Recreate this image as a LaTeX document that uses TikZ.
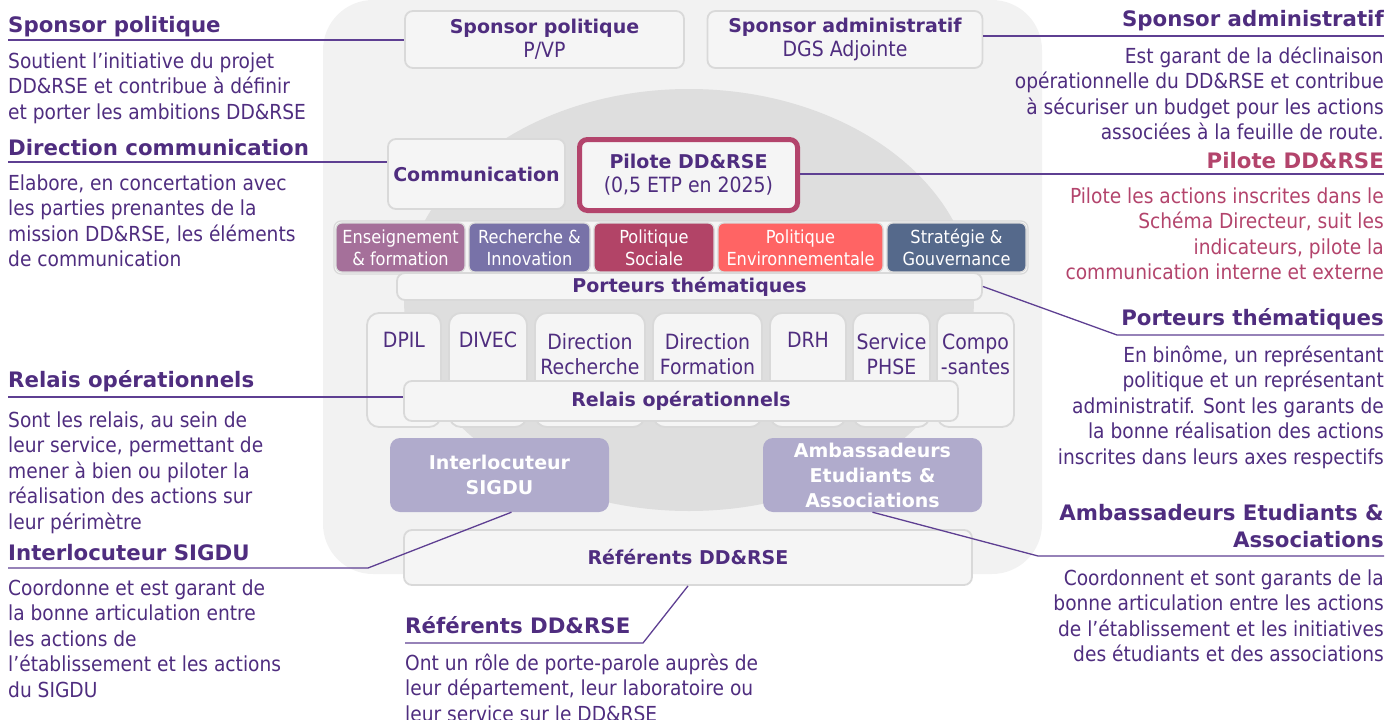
\documentclass[tikz,border=0pt]{standalone}
\usepackage{fontspec}
\setmainfont{DejaVu Sans Condensed}[BoldFont={DejaVu Sans Bold}]
\usetikzlibrary{calc}
\definecolor{purp}{HTML}{4F2D7F}
\definecolor{pink}{HTML}{B3446C}
\definecolor{lnc}{HTML}{5E3F92}
\definecolor{bgA}{HTML}{F2F2F2}
\definecolor{bgB}{HTML}{DEDEDE}
\definecolor{boxf}{HTML}{F5F5F5}
\definecolor{boxd}{HTML}{D9D9D9}
\definecolor{cEns}{HTML}{A5709A}
\definecolor{cRec}{HTML}{7872A8}
\definecolor{cSoc}{HTML}{B24467}
\definecolor{cEnv}{HTML}{FF6464}
\definecolor{cStr}{HTML}{55698B}
\definecolor{lav}{HTML}{B0ABCC}
\tikzset{
 gbox/.style={draw=boxd, line width=1.8pt, fill=boxf, rounded corners=8pt, inner sep=0pt, text=purp, align=center, font=\fontsize{21}{24}\selectfont},
 cbox/.style={draw=boxd, line width=1.2pt, rounded corners=6pt, inner sep=0pt, text=white, align=center, font=\fontsize{18}{22}\selectfont},
 lbox/.style={fill=lav, rounded corners=10pt, inner sep=0pt, text=white, align=center, font=\bfseries\fontsize{19}{25}\selectfont},
 coltxt/.style={inner sep=0pt, text=purp, align=center, font=\fontsize{21}{25}\selectfont},
 ttl/.style={inner sep=0pt, text=purp, font=\bfseries\fontsize{21.3}{27.5}\selectfont},
 body/.style={inner sep=0pt, text=purp, font=\fontsize{20.7}{25.5}\selectfont},
 conn/.style={draw=lnc, line width=1.3pt},
 bt/.style={font=\bfseries\fontsize{19}{24}\selectfont},
}
\begin{document}
\begin{tikzpicture}[x=1pt,y=-1pt]
\useasboundingbox (0,0) rectangle (1393,720);
% backgrounds
\fill[bgA, rounded corners=50pt] (323,0) rectangle (1042,574);
\fill[bgB] (689,300) ellipse [x radius=285pt, y radius=211pt];
% top boxes
\node[gbox, minimum width=279pt, minimum height=57pt] (sp) at (544.5,39.5) {{\bfseries\fontsize{19}{24}\selectfont Sponsor politique}\\P/VP};
\node[gbox, minimum width=275pt, minimum height=57pt] (sa) at (845,39.5) {{\bfseries\fontsize{19}{24}\selectfont Sponsor administratif}\\DGS Adjointe};
\node[gbox, bt, minimum width=177pt, minimum height=70pt] (comm) at (476.5,174) {Communication};
\node[gbox, draw=pink, line width=5pt, minimum width=218pt, minimum height=71pt] (pil) at (688.5,175) {{\bfseries\fontsize{19}{24}\selectfont Pilote DD\&RSE}\\(0,5 ETP en 2025)};
% thematic row
\node[draw=boxd, line width=1.2pt, fill=boxf, rounded corners=7pt, minimum width=694pt, minimum height=53pt, inner sep=0pt] (row) at (681,247.5) {};
\node[cbox, fill=cEns, minimum width=129pt, minimum height=49pt] (ens) at (400.5,247.5) {Enseignement\\\& formation};
\node[cbox, fill=cRec, minimum width=121pt, minimum height=49pt] (rec) at (529.5,247.5) {Recherche \&\\Innovation};
\node[cbox, fill=cSoc, minimum width=120pt, minimum height=49pt] (soc) at (654,247.5) {Politique\\Sociale};
\node[cbox, fill=cEnv, minimum width=165pt, minimum height=49pt] (env) at (800.5,247.5) {Politique\\Environnementale};
\node[cbox, fill=cStr, minimum width=139pt, minimum height=49pt] (str) at (956.5,247.5) {Stratégie \&\\Gouvernance};
\node[gbox, bt, minimum width=585pt, minimum height=27pt] (port) at (689.5,286.5) {Porteurs thématiques};
% columns
\node[gbox, rounded corners=12pt, minimum width=74pt, minimum height=114pt] (k1) at (404,370) {};
\node[gbox, rounded corners=12pt, minimum width=78pt, minimum height=114pt] (k2) at (488,370) {};
\node[gbox, rounded corners=12pt, minimum width=110pt, minimum height=114pt] (k3) at (590,370) {};
\node[gbox, rounded corners=12pt, minimum width=109pt, minimum height=114pt] (k4) at (707.5,370) {};
\node[gbox, rounded corners=12pt, minimum width=76pt, minimum height=114pt] (k5) at (808,370) {};
\node[gbox, rounded corners=12pt, minimum width=77pt, minimum height=114pt] (k6) at (891.5,370) {};
\node[gbox, rounded corners=12pt, minimum width=77pt, minimum height=114pt] (k7) at (975.5,370) {};
\node[coltxt, anchor=base] (t1) at (404,347) {DPIL};
\node[coltxt, anchor=base] (t2) at (488,347) {DIVEC};
\node[coltxt, anchor=base] (t3) at (590,374) {Direction\\Recherche};
\node[coltxt, anchor=base] (t4) at (707.5,374) {Direction\\Formation};
\node[coltxt, anchor=base] (t5) at (808,347) {DRH};
\node[coltxt, anchor=base] (t6) at (891.5,374) {Service\\PHSE};
\node[coltxt, anchor=base] (t7) at (975.5,374) {Compo\\-santes};
\node[gbox, bt, minimum width=554pt, minimum height=40pt] (rel) at (681,401) {Relais opérationnels};
% lavender boxes
\node[lbox, minimum width=219pt, minimum height=74pt] (sig) at (499.5,475) {Interlocuteur\\SIGDU};
\node[lbox, minimum width=219pt, minimum height=74pt] (amb) at (872.5,475) {Ambassadeurs\\Etudiants \&\\Associations};
\node[gbox, bt, minimum width=568pt, minimum height=55pt] (ref) at (688,557.5) {Référents DD\&RSE};
% left texts
\node[ttl, anchor=base west] (T1) at (8,32) {Sponsor politique};
\node[body, anchor=base west, align=left] (B1) at (8,119) {Soutient l’initiative du projet\\DD\&RSE et contribue à définir\\et porter les ambitions DD\&RSE};
\node[ttl, anchor=base west] (T2) at (8,155) {Direction communication};
\node[body, anchor=base west, align=left] (B2) at (8,266.5) {Elabore, en concertation avec\\les parties prenantes de la\\mission DD\&RSE, les éléments\\de communication};
\node[ttl, anchor=base west] (T3) at (8,387) {Relais opérationnels};
\node[body, anchor=base west, align=left] (B3) at (8,529) {Sont les relais, au sein de\\leur service, permettant de\\mener à bien ou piloter la\\réalisation des actions sur\\leur périmètre};
\node[ttl, anchor=base west] (T4) at (8,560) {Interlocuteur SIGDU};
\node[body, anchor=base west, align=left] (B4) at (8,697) {Coordonne et est garant de\\la bonne articulation entre\\les actions de\\l’établissement et les actions\\du SIGDU};
% right texts
\node[ttl, anchor=base east] (T5) at (1384,27) {Sponsor administratif};
\node[body, anchor=base east, align=right] (B5) at (1384,139.5) {Est garant de la déclinaison\\opérationnelle du DD\&RSE et contribue\\à sécuriser un budget pour les actions\\associées à la feuille de route.};
\node[ttl, anchor=base east, text=pink] (T6) at (1384,168) {Pilote DD\&RSE};
\node[body, anchor=base east, align=right, text=pink] (B6) at (1384,279.5) {Pilote les actions inscrites dans le\\Schéma Directeur, suit les\\indicateurs, pilote la\\communication interne et externe};
\node[ttl, anchor=base east] (T7) at (1384,325) {Porteurs thématiques};
\node[body, anchor=base east, align=right] (B7) at (1384,464) {En binôme, un représentant\\politique et un représentant\\administratif. Sont les garants de\\la bonne réalisation des actions\\inscrites dans leurs axes respectifs};
\node[ttl, anchor=base east, align=right] (T8) at (1384,547.5) {Ambassadeurs Etudiants \&\\Associations};
\node[body, anchor=base east, align=right] (B8) at (1384,661.5) {Coordonnent et sont garants de la\\bonne articulation entre les actions\\de l’établissement et les initiatives\\des étudiants et des associations};
% bottom text
\node[ttl, anchor=base west] (T9) at (405,633) {Référents DD\&RSE};
\node[body, anchor=base west, align=left] (B9) at (405,721) {Ont un rôle de porte-parole auprès de\\leur département, leur laboratoire ou\\leur service sur le DD\&RSE};
% connectors
\coordinate (a1) at (8,40);
\coordinate (a2) at (8,162);
\coordinate (a3) at (8,397);
\coordinate (a4) at (8,568);
\coordinate (a4b) at (368,568);
\coordinate (b1) at (1384,36);
\coordinate (b2) at (1384,174);
\coordinate (b3) at (1384,335);
\coordinate (b3a) at (1117,335);
\coordinate (b4) at (1384,556);
\coordinate (b4a) at (1038,556);
\coordinate (c1) at (405,643);
\coordinate (c1a) at (643,643);
\draw[conn] (a1) -- (a1 -| sp.west);
\draw[conn] (a2) -- (a2 -| comm.west);
\draw[conn] (a3) -- (a3 -| rel.west);
\draw[conn] (a4) -- (a4b) -- ($(sig.south)+(12,0)$);
\draw[conn] (b1 -| sa.east) -- (b1);
\draw[conn] (b2 -| pil.east) -- (b2);
\draw[conn] (port.east) -- (b3a) -- (b3);
\draw[conn] (amb.south) -- (b4a) -- (b4);
\draw[conn] (c1) -- (c1a) -- (ref.south);
\end{tikzpicture}
\end{document}
